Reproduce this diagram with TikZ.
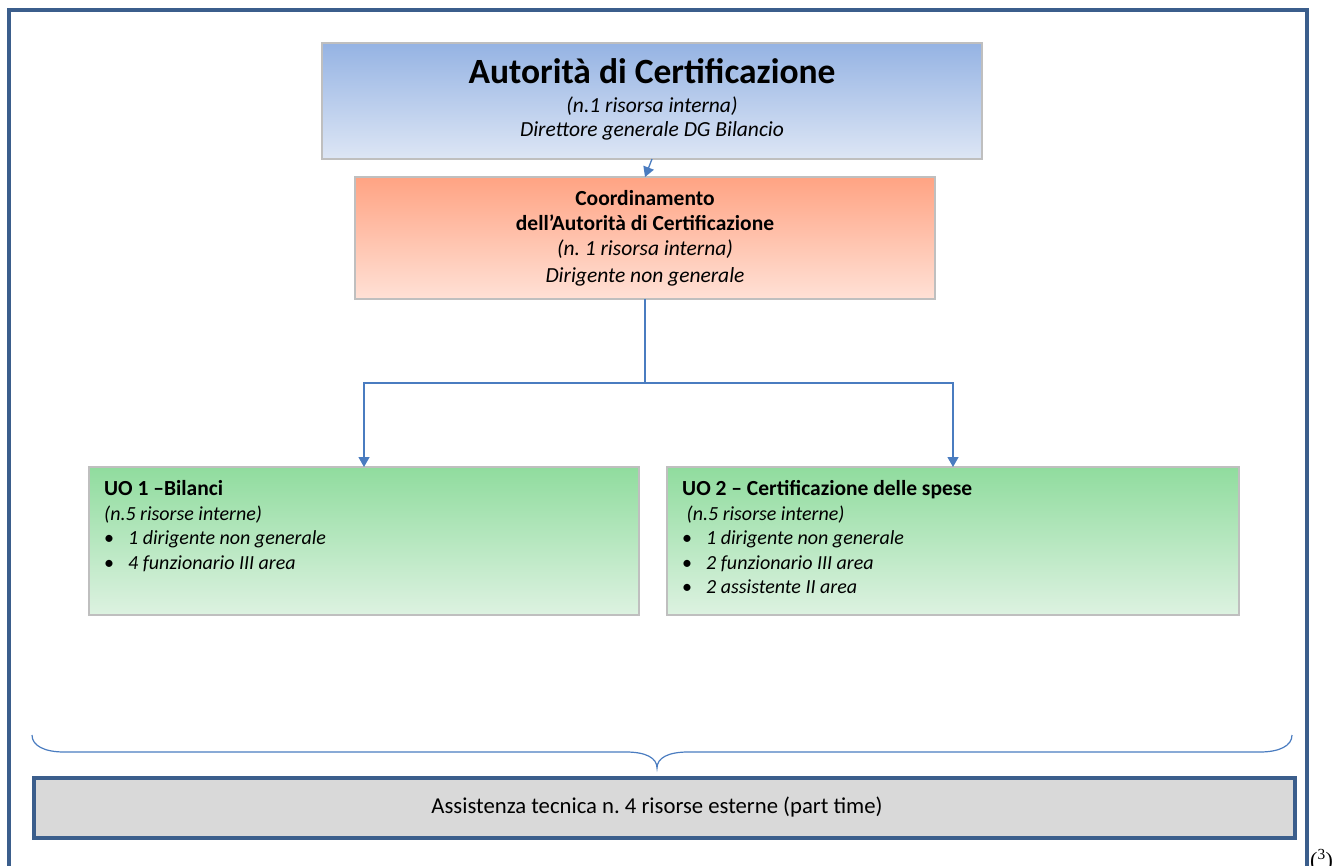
\documentclass[tikz,border=0pt]{standalone}
\usepackage{fontspec}
\setmainfont{Carlito}
\newfontfamily\notefont{Liberation Serif}
\usetikzlibrary{arrows.meta}
\frenchspacing

\definecolor{frameblue}{HTML}{3B5E8C}
\definecolor{linkblue}{HTML}{4A7CC0}
\definecolor{edgegrey}{HTML}{BFBFBF}
\definecolor{topblue}{HTML}{95B3E3}
\definecolor{lowblue}{HTML}{DDE6F5}
\definecolor{toporange}{HTML}{FFA383}
\definecolor{loworange}{HTML}{FFE1D6}
\definecolor{topgreen}{HTML}{90DC9E}
\definecolor{lowgreen}{HTML}{DDF2E1}
\definecolor{techgrey}{HTML}{D9D9D9}

\tikzset{
  orgbox/.style={draw=edgegrey, line width=1.2pt, inner sep=0pt, outer sep=0pt, anchor=north west},
  bluebox/.style={orgbox, top color=topblue, bottom color=lowblue},
  orangebox/.style={orgbox, top color=toporange, bottom color=loworange},
  greenbox/.style={orgbox, top color=topgreen, bottom color=lowgreen},
  techbox/.style={draw=frameblue, line width=3.5pt, fill=techgrey, inner sep=0pt, anchor=north west},
  txt/.style={inner sep=0pt, anchor=base},
  boldtxt/.style={txt, font=\fontsize{21.5}{26}\selectfont\bfseries},
  slanttxt/.style={txt, font=\fontsize{21.5}{26}\selectfont\itshape},
  uotxt/.style={inner sep=0pt, align=left, anchor=north west, font=\fontsize{20}{24.5}\selectfont},
  link/.style={draw=linkblue, line width=1.3pt},
  linkarrow/.style={link, -{Triangle[width=11pt,length=10pt]}},
}
\newcommand{\uoitem}[1]{\makebox[24pt][l]{•}\textit{#1}}
\newcommand{\uotitle}[1]{{\fontsize{21.5}{24.5}\selectfont\bfseries #1}}

\begin{document}
\begin{tikzpicture}[x=1pt,y=-1pt]
\useasboundingbox (0,0) rectangle (1340,866);

% outer frame, open at the bottom of the page
\draw[frameblue, line width=3.2pt] (9,10) rectangle (1307,900);

% Autorita di Certificazione
\node[bluebox, minimum width=660pt, minimum height=116pt] (ac) at (322,43) {};
\node[txt, font=\fontsize{35.5}{40}\selectfont\bfseries] (actitle) at (652,83.5) {Autorità di Certificazione};
\node[slanttxt] (acres) at (652,113) {(n.1 risorsa interna)};
\node[slanttxt] (acrole) at (652,137) {Direttore generale DG Bilancio};

% Coordinamento
\node[orangebox, minimum width=580pt, minimum height=122pt] (coord) at (355,177) {};
\node[boldtxt] (coordA) at (645,205.5) {Coordinamento};
\node[boldtxt] (coordB) at (645,231) {dell’Autorità di Certificazione};
\node[slanttxt] (coordC) at (645,256) {(n. 1 risorsa interna)};
\node[slanttxt] (coordD) at (645,282.5) {Dirigente non generale};

% Unita operative
\node[greenbox, minimum width=550pt, minimum height=148pt] (uo1) at (89,467) {};
\node[uotxt] (uo1txt) at (104,480.5) {\uotitle{UO 1 –Bilanci}\\
  \textit{(n.5 risorse interne)}\\
  \uoitem{1 dirigente non generale}\\
  \uoitem{4 funzionario III area}};

\node[greenbox, minimum width=572pt, minimum height=148pt] (uo2) at (667,467) {};
\node[uotxt] (uo2txt) at (682,480.5) {\uotitle{UO 2 – Certificazione delle spese}\\
  \ \textit{(n.5 risorse interne)}\\
  \uoitem{1 dirigente non generale}\\
  \uoitem{2 funzionario III area}\\
  \uoitem{2 assistente II area}};

% Connectors
\draw[linkarrow] (ac.south) -- (coord.north);
\coordinate (split) at (coord.south |- 0,383);
\draw[link] (coord.south) -- (split);
\draw[linkarrow] (split) -| (uo1.north);
\draw[linkarrow] (split) -| (uo2.north);

% Brace over the technical assistance bar
\coordinate (braceL) at (32,735);
\coordinate (braceR) at (1292,735);
\coordinate (braceTip) at (657,768);
\draw[linkblue, line width=1.2pt]
  (braceL) .. controls (32,746) and (45,752) .. (64,752)
  -- (626,752) .. controls (646,752) and (657,758) .. (braceTip)
  .. controls (657,758) and (668,752) .. (688,752)
  -- (1260,752) .. controls (1279,752) and (1292,746) .. (braceR);

% Technical assistance
\node[techbox, minimum width=1261pt, minimum height=60pt] (tech) at (32,776) {};
\node[txt, font=\fontsize{22.7}{27}\selectfont] (techtxt) at (657,813) {Assistenza tecnica n. 4 risorse esterne (part time)};

% Footnote mark
\node[inner sep=0pt, anchor=base west, font=\notefont\fontsize{22}{26}\selectfont] (note) at (1310,867) {(\textsuperscript{3})};
\end{tikzpicture}
\end{document}
